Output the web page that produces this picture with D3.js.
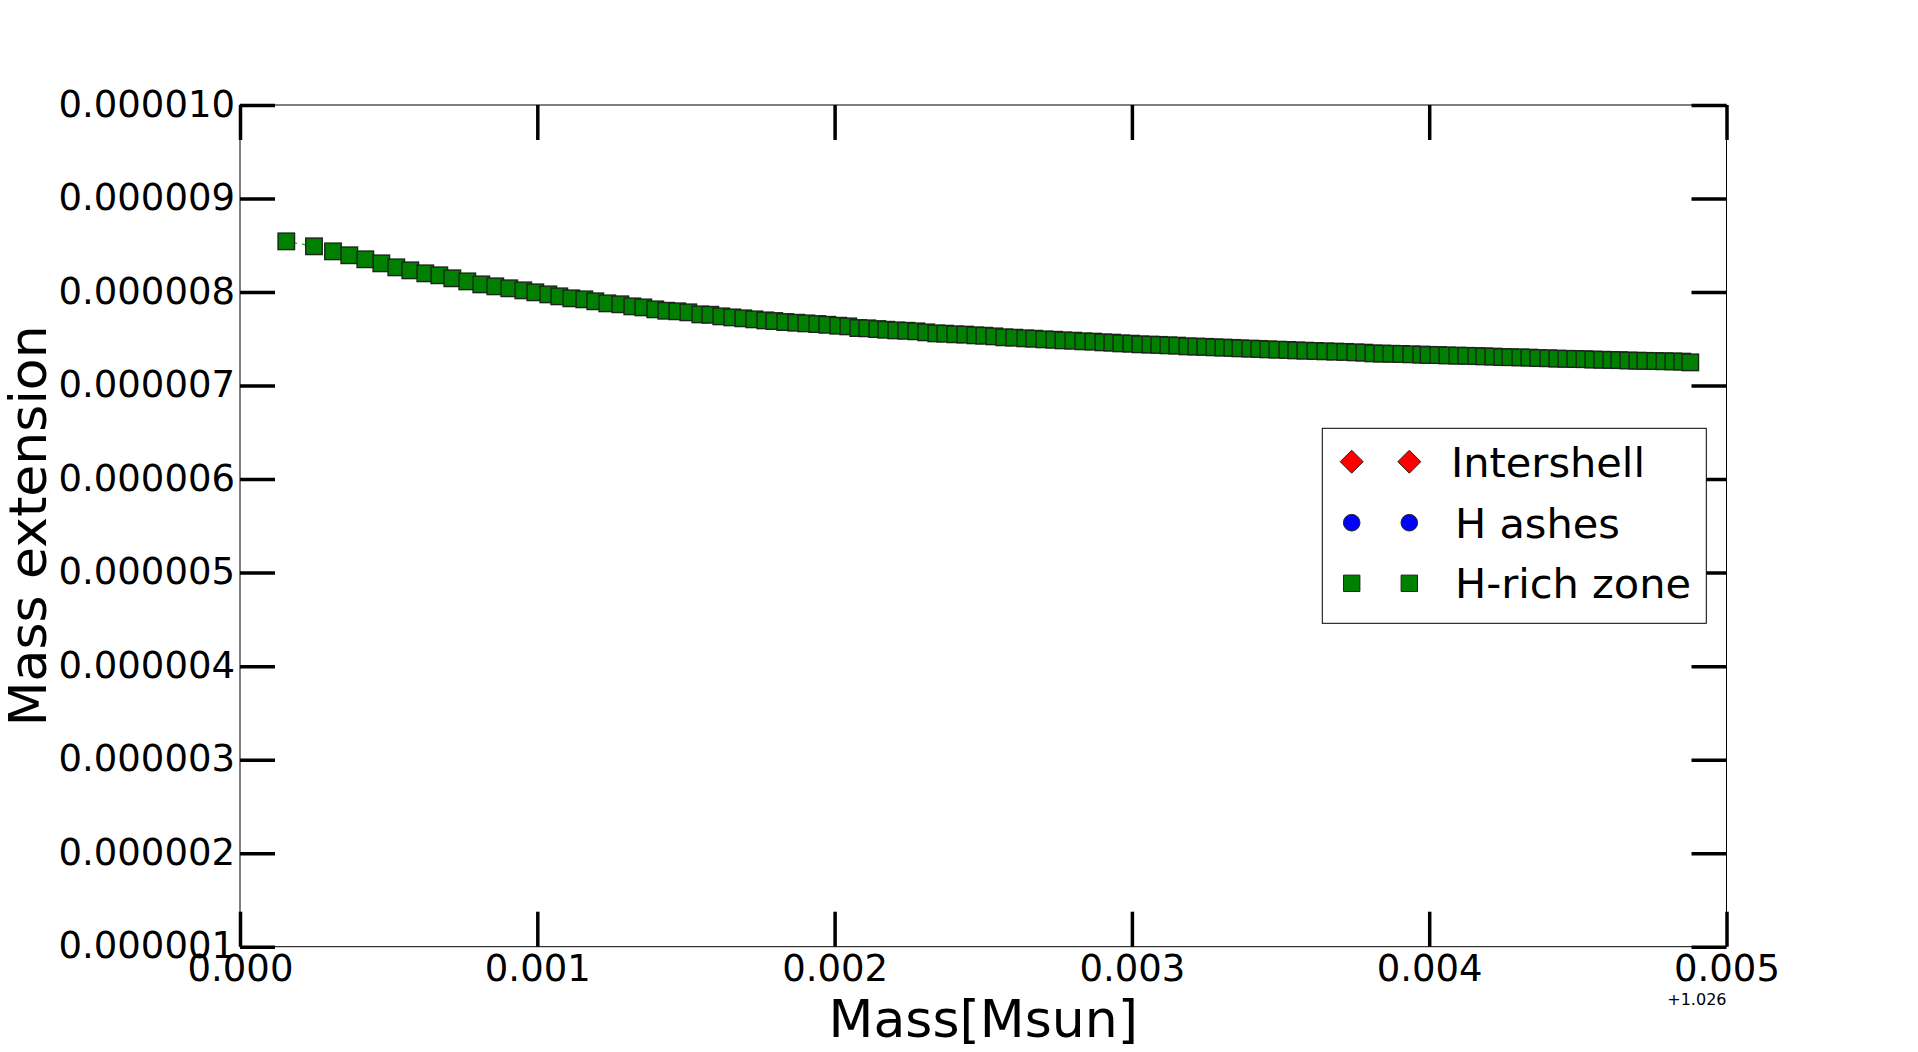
<!DOCTYPE html>
<html><head><meta charset="utf-8">
<script src="https://cdn.jsdelivr.net/npm/d3@7"></script>
<style>
html,body{margin:0;padding:0;background:#fff;}
svg{display:block;font-family:"DejaVu Sans",sans-serif;}
</style>
</head><body>
<svg id="chart" width="1918" height="1052"></svg>
<script>
// Mass coordinate minus 1.026 Msun, in units of 1e-3 Msun
const massOffsetMilli = [
0.1557,0.2489,0.3128,0.3676,0.4215,0.4753,0.5257,0.5728,0.6233,0.6704,
0.7141,0.7645,0.8116,0.8587,0.9058,0.9529,0.9933,1.0370,1.0740,1.1144,
1.1581,1.1951,1.2355,1.2792,1.3196,1.3566,1.3969,1.4339,1.4709,1.5079,
1.5483,1.5819,1.6189,1.6559,1.6929,1.7299,1.7669,1.7972,1.8342,1.8712,
1.9048,1.9418,1.9754,2.0124,2.0461,2.0797,2.1100,2.1436,2.1739,2.2075,
2.2412,2.2748,2.3084,2.3421,2.3723,2.4060,2.4396,2.4733,2.5035,2.5372,
2.5708,2.6045,2.6414,2.6717,2.7053,2.7390,2.7693,2.8029,2.8365,2.8702,
2.9038,2.9341,2.9643,2.9980,3.0283,3.0619,3.0921,3.1224,3.1527,3.1864,
3.2166,3.2469,3.2772,3.3075,3.3377,3.3647,3.3983,3.4285,3.4588,3.4891,
3.5227,3.5530,3.5832,3.6169,3.6505,3.6842,3.7178,3.7514,3.7817,3.8120,
3.8423,3.8725,3.9062,3.9398,3.9734,3.9980,4.0306,4.0609,4.0945,4.1248,
4.1584,4.1853,4.2156,4.2459,4.2728,4.3064,4.3367,4.3670,4.4006,4.4309,
4.4611,4.4914,4.5217,4.5520,4.5822,4.6125,4.6394,4.6697,4.7000,4.7269,
4.7605,4.7908,4.8211,4.8513,4.8782
];
// Mass extension of the H-rich zone, in units of 1e-6
const hRichExtensionMicro = [
8.542,8.489,8.435,8.393,8.350,8.307,8.264,8.232,8.200,8.179,
8.147,8.114,8.082,8.061,8.040,8.018,7.997,7.975,7.954,7.933,
7.922,7.901,7.879,7.869,7.847,7.836,7.815,7.800,7.794,7.783,
7.761,7.757,7.740,7.729,7.719,7.708,7.697,7.690,7.679,7.672,
7.665,7.658,7.650,7.640,7.633,7.615,7.612,7.604,7.597,7.590,
7.586,7.580,7.569,7.558,7.555,7.548,7.545,7.537,7.533,7.526,
7.516,7.512,7.505,7.501,7.494,7.490,7.483,7.480,7.473,7.470,
7.462,7.459,7.451,7.448,7.441,7.438,7.435,7.430,7.427,7.419,
7.417,7.414,7.409,7.406,7.403,7.398,7.395,7.392,7.387,7.384,
7.381,7.376,7.373,7.370,7.366,7.363,7.360,7.355,7.352,7.344,
7.342,7.340,7.338,7.334,7.331,7.328,7.326,7.322,7.320,7.318,
7.315,7.312,7.310,7.305,7.303,7.301,7.299,7.294,7.292,7.288,
7.286,7.284,7.282,7.278,7.276,7.274,7.272,7.268,7.266,7.264,
7.262,7.260,7.258,7.256,7.248
];
const xTickValues = [0, 0.001, 0.002, 0.003, 0.004, 0.005];
const yTickValues = [0.000001,0.000002,0.000003,0.000004,0.000005,0.000006,0.000007,0.000008,0.000009,0.000010];
const xOffsetText = "+1.026";
const xAxisTitle = "Mass[Msun]";
const yAxisTitle = "Mass extension";
const legendNames = ["Intershell", "H ashes", "H-rich zone"];
const legendShapes = ["diamond", "circle", "square"];
const legendColors = ["#ff0000", "#0000ff", "#008000"];

const points = massOffsetMilli.map((m, i) => ({x: m * 1e-3, y: hRichExtensionMicro[i] * 1e-6}));

const svg = d3.select("#chart");
const L = 240, R = 1726.5, T = 105, B = 946.7;
const x = d3.scaleLinear().domain([0, 0.005]).range([L, R]);
const y = d3.scaleLinear().domain([0.000001, 0.000010]).range([B, T]);

// frame
svg.append("rect").attr("x", L).attr("y", T).attr("width", R - L).attr("height", B - T)
  .attr("fill", "none").attr("stroke", "#000").attr("stroke-width", 1);

const tickLen = 35, tickW = 3.5, tickFont = 37;
function styleAxis(g) {
  g.select(".domain").remove();
  g.selectAll(".tick line").attr("stroke", "#000").attr("stroke-width", tickW);
}
const gB = svg.append("g").attr("transform", `translate(0,${B})`)
  .call(d3.axisBottom(x).tickValues(xTickValues).tickSizeInner(-tickLen).tickSizeOuter(0).tickFormat(d3.format(".3f")));
styleAxis(gB);
gB.selectAll(".tick text").attr("y", 34.5).attr("dy", null).attr("font-size", tickFont)
  .attr("font-family", "DejaVu Sans").attr("fill", "#000");

const gT = svg.append("g").attr("transform", `translate(0,${T})`)
  .call(d3.axisTop(x).tickValues(xTickValues).tickSizeInner(-tickLen).tickSizeOuter(0).tickFormat(""));
styleAxis(gT);

const gL = svg.append("g").attr("transform", `translate(${L},0)`)
  .call(d3.axisLeft(y).tickValues(yTickValues).tickSizeInner(-tickLen).tickSizeOuter(0).tickFormat(d3.format(".6f")));
styleAxis(gL);
gL.selectAll(".tick text").attr("x", -5).attr("y", 11).attr("dy", null).attr("font-size", tickFont)
  .attr("font-family", "DejaVu Sans").attr("fill", "#000").attr("text-anchor", "end");

const gR = svg.append("g").attr("transform", `translate(${R},0)`)
  .call(d3.axisRight(y).tickValues(yTickValues).tickSizeInner(-tickLen).tickSizeOuter(0).tickFormat(""));
styleAxis(gR);

// offset text
svg.append("text").attr("x", R).attr("y", 1005).attr("text-anchor", "end")
  .attr("font-size", 16).text(xOffsetText);

// axis titles
svg.append("text").attr("x", (L + R) / 2).attr("y", 1036.5).attr("text-anchor", "middle")
  .attr("font-size", 52).text(xAxisTitle);
svg.append("text").attr("transform", `translate(46,${(T + B) / 2}) rotate(-90)`)
  .attr("text-anchor", "middle").attr("font-size", 52).text(yAxisTitle);

// series
const plot = svg.append("g");
plot.append("path").datum(points)
  .attr("d", d3.line().x(d => x(d.x)).y(d => y(d.y)))
  .attr("fill", "none").attr("stroke", "#2e9a2e").attr("stroke-width", 1.2)
  .attr("stroke-dasharray", "3,5");
const sq = 16.5;
plot.selectAll("rect.pt").data(points).join("rect").attr("class", "pt")
  .attr("x", d => x(d.x) - sq / 2).attr("y", d => y(d.y) - sq / 2)
  .attr("width", sq).attr("height", sq)
  .attr("fill", "#008000").attr("stroke", "#1a261a").attr("stroke-width", 1.4);

// legend
function markerPath(shape) {
  const p = d3.path();
  if (shape === "diamond") { const r = 11.5; p.moveTo(0,-r); p.lineTo(r,0); p.lineTo(0,r); p.lineTo(-r,0); p.closePath(); }
  else if (shape === "circle") { p.arc(0, 0, 8.3, 0, 2 * Math.PI); }
  else { const h = 8.2; p.rect(-h, -h, 2 * h, 2 * h); }
  return p.toString();
}
const lg = svg.append("g");
lg.append("rect").attr("x", 1322.3).attr("y", 428.3).attr("width", 384).attr("height", 195)
  .attr("fill", "#fff").attr("stroke", "#000").attr("stroke-width", 1);
const rowY = [461.7, 522.7, 583.3];
const textX = [1451, 1455, 1455];
const markerX = [1351.7, 1409.3];
legendNames.forEach((name, i) => {
  markerX.forEach(mx => {
    lg.append("path").attr("d", markerPath(legendShapes[i]))
      .attr("transform", `translate(${mx},${rowY[i]})`)
      .attr("fill", legendColors[i]).attr("stroke", "#222").attr("stroke-width", 1);
  });
  lg.append("text").attr("x", textX[i]).attr("y", rowY[i] + 15).attr("font-size", 41.5).text(name);
});
</script>
</body></html>
